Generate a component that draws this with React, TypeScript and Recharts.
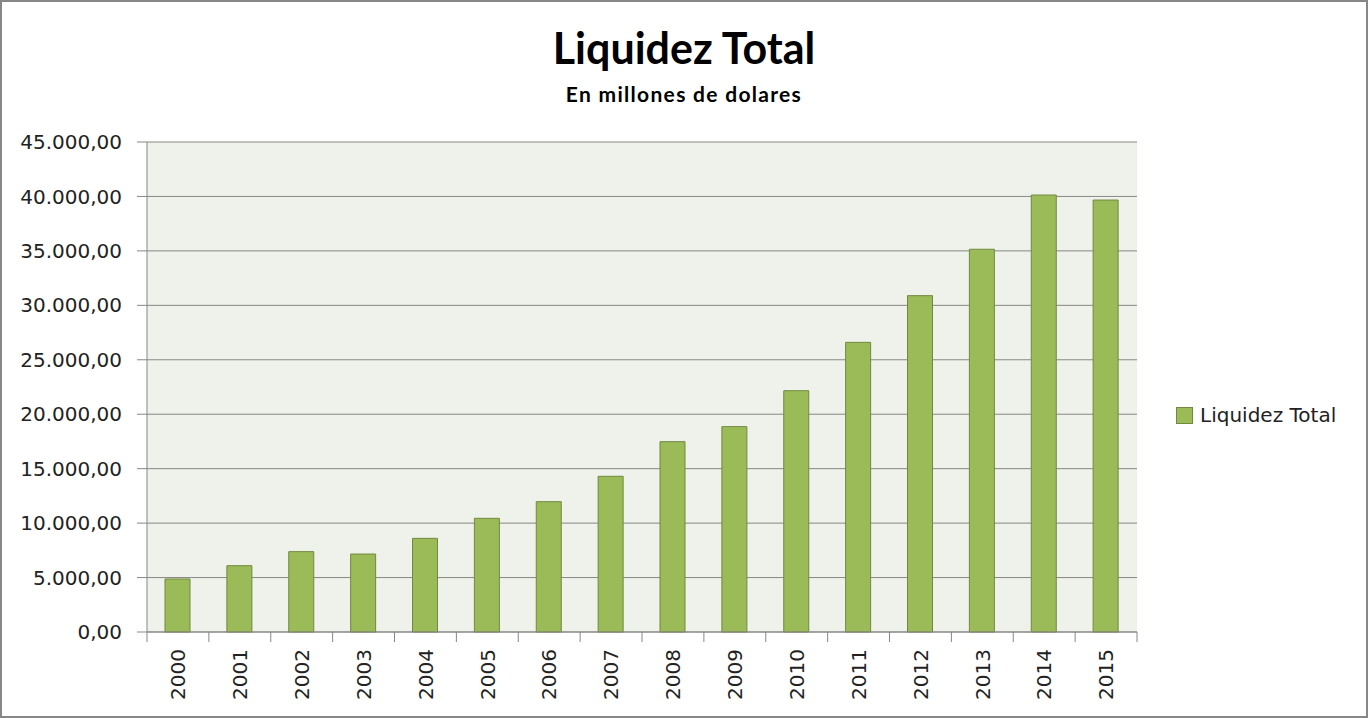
import React from 'react';
import { BarChart, Bar, XAxis, YAxis, CartesianGrid, Legend } from 'recharts';

const years = ['2000', '2001', '2002', '2003', '2004', '2005', '2006', '2007', '2008', '2009', '2010', '2011', '2012', '2013', '2014', '2015'];
const liquidez = [4870, 6090, 7380, 7160, 8600, 10440, 11970, 14300, 17480, 18860, 22160, 26600, 30890, 35150, 40130, 39670];
const yTicks = [0, 5000, 10000, 15000, 20000, 25000, 30000, 35000, 40000, 45000];

const data = years.map((year, i) => ({ year, value: liquidez[i] }));

const W = 1368;
const H = 718;
const MARGIN = { top: 142, right: 231, bottom: 0, left: 0 };
const Y_AXIS_W = 147;
const PLOT_W = W - MARGIN.left - MARGIN.right - Y_AXIS_W;
const BAND = PLOT_W / years.length;

const GRAY = '#878787';
const TEXT = '#222';
const AXIS_FONT = 'DejaVu Sans, Verdana, sans-serif';

// es-style number: 45.000,00
const fmt = (n: number) => {
    const [int, dec] = n.toFixed(2).split('.');
    return int.replace(/\B(?=(\d{3})+(?!\d))/g, '.') + ',' + dec;
};

const XTick = (props: any) => {
    const { x, y, payload, index } = props;
    const left = x - BAND / 2;
    return (
        <g>
            <line x1={left} y1={y} x2={left} y2={y + 10} stroke={GRAY} strokeWidth={1} />
            {index === years.length - 1 && (
                <line x1={x + BAND / 2} y1={y} x2={x + BAND / 2} y2={y + 10} stroke={GRAY} strokeWidth={1} />
            )}
            <text
                x={x}
                y={y + 17}
                transform={`rotate(-90, ${x}, ${y + 17})`}
                textAnchor="end"
                dy="0.36em"
                fill={TEXT}
                fontSize={20}
                fontFamily={AXIS_FONT}
            >
                {payload.value}
            </text>
        </g>
    );
};

const LegendContent = () => (
    <div style={{ display: 'flex', alignItems: 'center', fontFamily: AXIS_FONT, fontSize: 20, color: TEXT }}>
        <span style={{ width: 15, height: 15, background: '#9BBB59', border: '1px solid #71893F', marginRight: 7, display: 'inline-block' }} />
        <span>Liquidez Total</span>
    </div>
);

export default function App() {
    return (
        <div style={{ position: 'absolute', left: 0, top: 0, width: W, height: H, background: '#fff' }}>
            <div style={{ position: 'absolute', left: 0, top: 26, width: W, textAlign: 'center', fontFamily: 'Lato, sans-serif', fontWeight: 700, fontSize: 43, lineHeight: '43px', color: '#000' }}>
                Liquidez Total
            </div>
            <div style={{ position: 'absolute', left: 0, top: 83, width: W, textAlign: 'center', fontFamily: 'Lato, sans-serif', fontWeight: 700, fontSize: 21, lineHeight: '21px', letterSpacing: 1.3, color: '#000' }}>
                En millones de dolares
            </div>
            <BarChart width={W} height={H} data={data} margin={MARGIN}>
                <CartesianGrid vertical={false} stroke={GRAY} strokeWidth={1} fill="#EFF2EA" fillOpacity={1} />
                <XAxis
                    dataKey="year"
                    height={86}
                    axisLine={{ stroke: GRAY }}
                    tickLine={false}
                    tickSize={0}
                    tickMargin={0}
                    interval={0}
                    tick={<XTick />}
                />
                <YAxis
                    width={Y_AXIS_W}
                    domain={[0, 45000]}
                    ticks={yTicks}
                    interval={0}
                    tickFormatter={fmt}
                    axisLine={{ stroke: GRAY }}
                    tickLine={{ stroke: GRAY }}
                    tickSize={10}
                    tickMargin={15}
                    tick={{ fill: TEXT, fontSize: 20, fontFamily: AXIS_FONT }}
                />
                <Legend
                    layout="horizontal"
                    align="center"
                    verticalAlign="middle"
                    content={<LegendContent />}
                    wrapperStyle={{ position: 'absolute', left: 1176, top: 403, width: 190, height: 24 }}
                />
                <Bar
                    dataKey="value"
                    name="Liquidez Total"
                    fill="#9BBB59"
                    stroke="#71893F"
                    strokeWidth={1}
                    barSize={25}
                    isAnimationActive={false}
                />
            </BarChart>
            <div style={{ position: 'absolute', left: 0, top: 0, width: W, height: H, boxSizing: 'border-box', border: `2px solid ${GRAY}`, pointerEvents: 'none' }} />
        </div>
    );
}
